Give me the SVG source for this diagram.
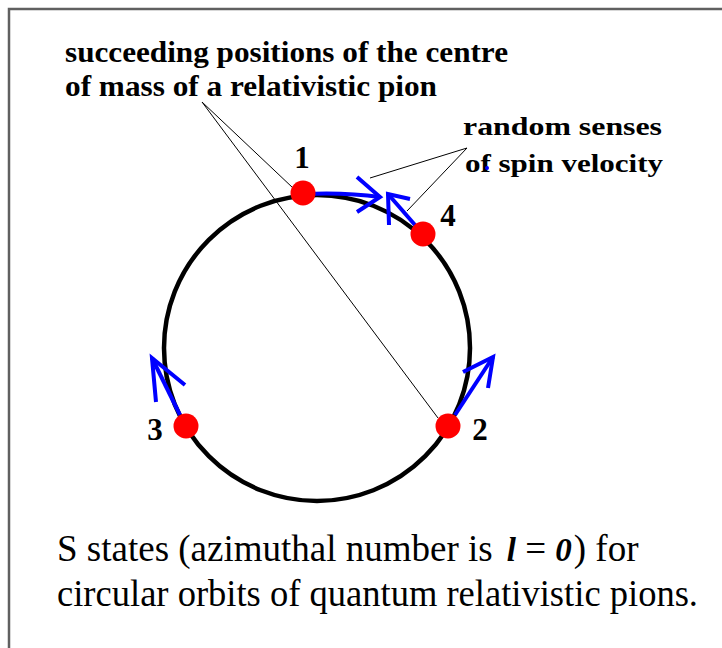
<svg xmlns="http://www.w3.org/2000/svg" width="722" height="648" viewBox="0 0 722 648">
<defs>
<style>
.bold{font-family:"Liberation Serif","Times New Roman",serif;font-weight:bold;fill:#000}
.reg{font-family:"Liberation Serif","Times New Roman",serif;fill:#000}
.bi{font-weight:bold;font-style:italic;font-size:33px}
.lead{stroke:#000;stroke-width:1;fill:none}
.blue{stroke:#0000ff;stroke-width:4;fill:none;stroke-linejoin:miter}
.dot{fill:#ff0000}
.num{font-family:"Liberation Serif","Times New Roman",serif;font-weight:bold;font-size:31px;text-anchor:middle;fill:#000}
</style>
</defs>
<rect x="0" y="0" width="722" height="648" fill="#ffffff"/>
<rect x="9" y="9" width="720" height="645" fill="none" stroke="#606060" stroke-width="2.5"/>

<g id="orbit">
<circle cx="317" cy="348" r="153" fill="none" stroke="#000" stroke-width="4.5"/>
</g>

<g id="connectors">
<line class="lead" x1="202" y1="102" x2="293" y2="188"/>
<line class="lead" x1="202" y1="102" x2="438" y2="418"/>
<line class="lead" x1="467" y1="148" x2="370" y2="178"/>
<line class="lead" x1="467" y1="148" x2="407" y2="211"/>
</g>

<g id="arrows">
<path class="blue" d="M303,194 Q345,192 380,197"/>
<path class="blue" d="M357,177 L380,197 L357,212"/>
<path class="blue" d="M422,233 L388,194"/>
<path class="blue" d="M410,199 L388,194 L389,225"/>
<path class="blue" d="M180,415 L152,358"/>
<path class="blue" d="M156,402 L152,358 L185,385"/>
<path class="blue" d="M455,415 L493,357"/>
<path class="blue" d="M463,372 L493,357 L488,388"/>
</g>

<g id="pos1">
<circle class="dot" cx="303" cy="193" r="12.5"/>
<text class="num" x="302" y="168">1</text>
</g>
<g id="pos4">
<circle class="dot" cx="423" cy="234" r="12.5"/>
<text class="num" x="448" y="226">4</text>
</g>
<g id="pos2">
<circle class="dot" cx="448" cy="426" r="12.5"/>
<text class="num" x="480" y="440">2</text>
</g>
<g id="pos3">
<circle class="dot" cx="186" cy="426" r="12.5"/>
<text class="num" x="155" y="440">3</text>
</g>

<g id="label-centre">
<text class="bold" x="65" y="62" font-size="30" textLength="443" lengthAdjust="spacingAndGlyphs">succeeding positions of the centre</text>
<text class="bold" x="65" y="96" font-size="30" textLength="372" lengthAdjust="spacingAndGlyphs">of mass of a relativistic pion</text>
</g>

<g id="label-spin">
<text class="bold" x="463" y="135" font-size="26" textLength="199" lengthAdjust="spacingAndGlyphs">random senses</text>
<text class="bold" x="465" y="172" font-size="26" textLength="198" lengthAdjust="spacingAndGlyphs">of spin velocity</text>
<circle cx="487" cy="168" r="2" fill="#0000ff"/>
</g>

<g id="caption">
<text class="reg" x="57" y="561" font-size="37">S states (azimuthal number is<tspan dx="14" class="bi">l</tspan> = <tspan class="bi">0</tspan><tspan dx="2">) for</tspan></text>
<text class="reg" x="57" y="606" font-size="37" textLength="641" lengthAdjust="spacingAndGlyphs">circular orbits of quantum relativistic pions.</text>
</g>
</svg>
